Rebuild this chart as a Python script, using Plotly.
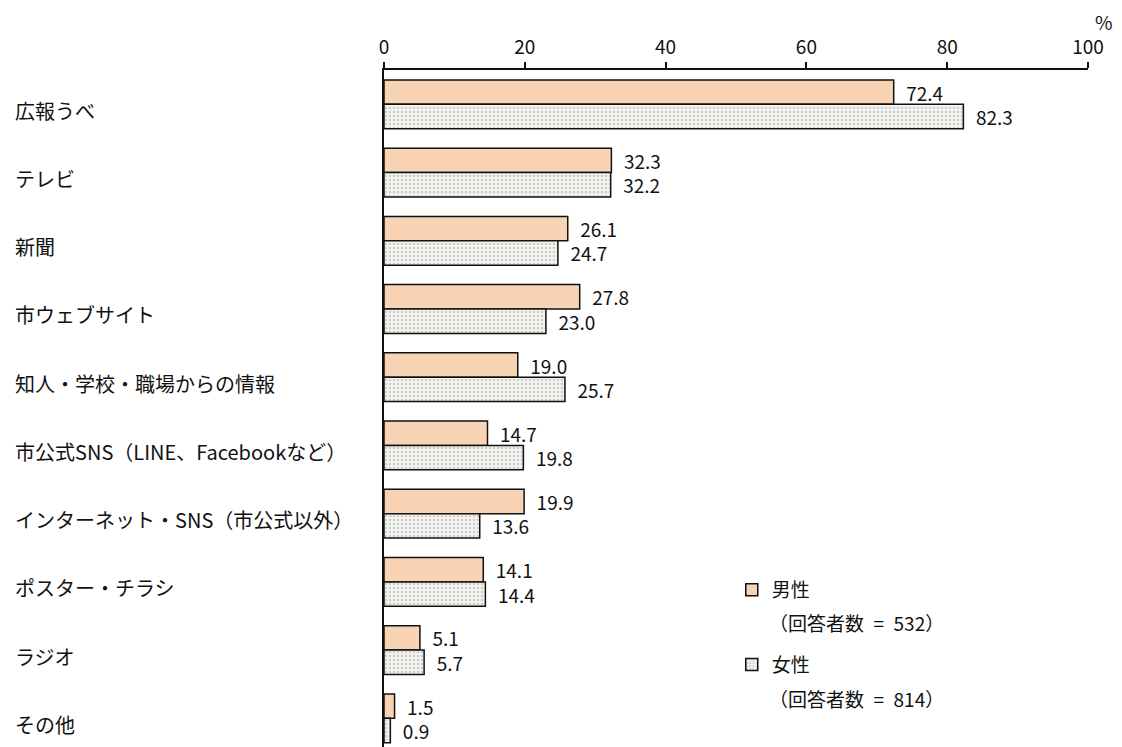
import plotly.graph_objects as go

categories = ["広報うべ", "テレビ", "新聞", "市ウェブサイト", "知人・学校・職場からの情報",
              "市公式SNS（LINE、Facebookなど）", "インターネット・SNS（市公式以外）",
              "ポスター・チラシ", "ラジオ", "その他"]
male = [72.4, 32.3, 26.1, 27.8, 19.0, 14.7, 19.9, 14.1, 5.1, 1.5]
female = [82.3, 32.2, 24.7, 23.0, 25.7, 19.8, 13.6, 14.4, 5.7, 0.9]
male_name = "男性"
female_name = "女性"
male_n = "（回答者数\u2002=\u2002532）"
female_n = "（回答者数\u2002=\u2002814）"
x_ticks = [0, 20, 40, 60, 80, 100]

FONT = "Noto Sans CJK JP, Noto Sans, sans-serif"
INK = "#111111"

# plot area geometry (page has an 8px body margin)
T, B = 62, 8
H = 747
PLOT_TOP = 70
PLOT_H = H - T - B


def py(pix):
    return 1 - (pix - PLOT_TOP) / PLOT_H


fig = go.Figure()
fig.add_trace(go.Bar(
    y=categories, x=male, orientation="h", name=male_name, legendgroup="m",
    marker=dict(color="#F8D4B4", line=dict(color=INK, width=1.5)),
    text=["\u2002" + f"{v:.1f}" for v in male], textposition="outside",
    constraintext="none",
    textfont=dict(size=19, color=INK), cliponaxis=False,
))
fig.add_trace(go.Bar(
    y=categories, x=female, orientation="h", name=female_name, legendgroup="f",
    marker=dict(color="#F3F3F0", line=dict(color=INK, width=1.5),
                pattern=dict(shape=".", fgcolor="#A8A8A8", bgcolor="#F3F3F0",
                             size=4, solidity=0.35)),
    text=["\u2002" + f"{v:.1f}" for v in female], textposition="outside",
    constraintext="none",
    textfont=dict(size=19, color=INK), cliponaxis=False,
))

for c in categories:
    fig.add_annotation(x=-0.527, xref="paper", y=c, yref="y", yshift=-6,
                       text=c, showarrow=False, xanchor="left",
                       font=dict(size=20, color=INK, family=FONT))

fig.add_annotation(x=1, xref="paper", xshift=16, y=py(22), yref="paper",
                   text="%", showarrow=False, xanchor="center", yanchor="middle",
                   font=dict(size=19, color=INK, family=FONT))

for txt, pix in [(male_n, 622), (female_n, 698)]:
    fig.add_annotation(x=(767 - 384) / 704, xref="paper", y=py(pix), yref="paper",
                       text=txt, showarrow=False, xanchor="left", yanchor="middle",
                       font=dict(size=19, color=INK, family=FONT))

fig.update_layout(
    width=1122, height=H,
    margin=dict(l=376, r=42, t=T, b=B),
    plot_bgcolor="white", paper_bgcolor="white",
    font=dict(family=FONT, color=INK),
    barmode="group", bargap=0.285, bargroupgap=0,
    xaxis=dict(side="top", range=[0, 100], tickvals=x_ticks,
               showgrid=False, zeroline=False,
               showline=True, linecolor=INK, linewidth=2,
               ticks="outside", ticklen=6, tickwidth=2, tickcolor=INK,
               tickfont=dict(size=19, color=INK)),
    yaxis=dict(range=[9.42, -0.503], showticklabels=False, showgrid=False,
               zeroline=False, showline=True, linecolor=INK, linewidth=2,
               ticks=""),
    legend=dict(x=0.494, y=py(571), xanchor="left", yanchor="top",
                font=dict(size=19, color=INK, family=FONT),
                tracegroupgap=47, itemwidth=30,
                bgcolor="rgba(0,0,0,0)"),
)

fig.write_html("out.html")
